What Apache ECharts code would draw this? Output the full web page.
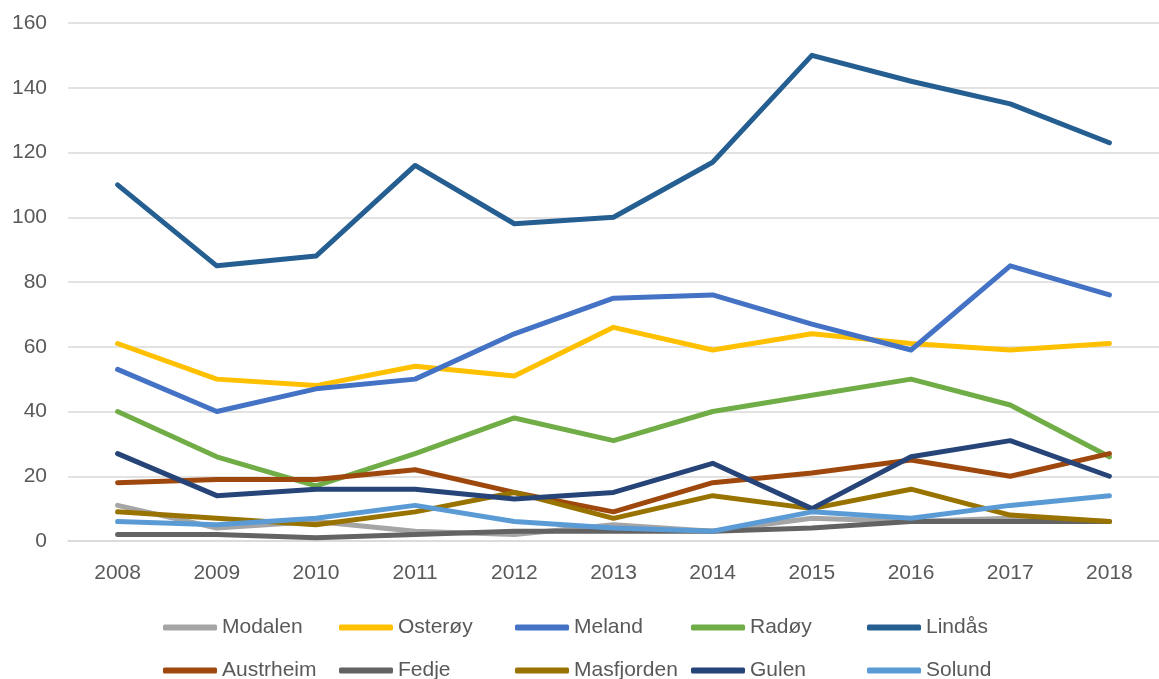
<!DOCTYPE html>
<html>
<head>
<meta charset="utf-8">
<script src="https://cdn.jsdelivr.net/npm/echarts@6/dist/echarts.min.js"></script>
<style>
	html, body { margin: 0; padding: 0; background: #fff; }
	#main_chart { width: 1159px; height: 679px; }
</style>
</head>
<body>
<div id="main_chart"></div>
<script>
var years = ["2008", "2009", "2010", "2011", "2012", "2013", "2014", "2015", "2016", "2017", "2018"];
var names = ["Modalen", "Osterøy", "Meland", "Radøy", "Lindås", "Austrheim", "Fedje", "Masfjorden", "Gulen", "Solund"];
var colors = ["#a5a5a5", "#ffc000", "#4472c4", "#70ad47", "#255e91", "#9e480e", "#636363", "#997300", "#264478", "#5b9bd5"];

var modalen = [11, 4, 6, 3, 2, 5, 3, 7, 6, 7, 6];
var osteroy = [61, 50, 48, 54, 51, 66, 59, 64, 61, 59, 61];
var meland = [53, 40, 47, 50, 64, 75, 76, 67, 59, 85, 76];
var radoy = [40, 26, 17, 27, 38, 31, 40, 45, 50, 42, 26];
var lindas = [110, 85, 88, 116, 98, 100, 117, 150, 142, 135, 123];
var austrheim = [18, 19, 19, 22, 15, 9, 18, 21, 25, 20, 27];
var fedje = [2, 2, 1, 2, 3, 3, 3, 4, 6, 6, 6];
var masfjorden = [9, 7, 5, 9, 15, 7, 14, 10, 16, 8, 6];
var gulen = [27, 14, 16, 16, 13, 15, 24, 10, 26, 31, 20];
var solund = [6, 5, 7, 11, 6, 4, 3, 9, 7, 11, 14];

var values = [modalen, osteroy, meland, radoy, lindas, austrheim, fedje, masfjorden, gulen, solund];

function makeChart() {
	var chart = echarts.init(document.getElementById("main_chart"));
	var font = "'Liberation Sans', Arial, sans-serif";

	var seriesArr = [];
	var legendArr = [];
	for (var i = 0; i < names.length; i++) {
		seriesArr.push({
			name: names[i],
			type: "line",
			symbol: "none",
			data: values[i],
			itemStyle: { color: colors[i] },
			lineStyle: { color: colors[i], width: 5, cap: "round", join: "round" }
		});
		// one legend per item so they sit in a fixed grid
		var col = i % 5;
		var row = Math.floor(i / 5);
		legendArr.push({
			data: [names[i]],
			left: 163 + col * 176,
			top: 617 + row * 43,
			icon: "roundRect",
			itemWidth: 54,
			itemHeight: 6,
			padding: 0,
			textStyle: { color: "#595959", fontSize: 21, fontFamily: font }
		});
	}

	var option = {
		animation: false,
		grid: { left: 68, top: 23, width: 1104, height: 518, containLabel: false },
		legend: legendArr,
		xAxis: {
			type: "category",
			data: years,
			boundaryGap: true,
			axisLine: { lineStyle: { color: "#d9d9d9", width: 1.5 } },
			axisTick: { show: false },
			axisLabel: { color: "#595959", fontSize: 21, fontFamily: font, margin: 22 }
		},
		yAxis: {
			type: "value",
			min: 0,
			max: 160,
			interval: 20,
			axisLine: { show: false },
			axisTick: { show: false },
			axisLabel: { color: "#595959", fontSize: 21, fontFamily: font, margin: 21 },
			splitLine: { lineStyle: { color: "#d9d9d9", width: 1.5 } }
		},
		series: seriesArr
	};

	chart.setOption(option);
}

makeChart();
</script>
</body>
</html>
